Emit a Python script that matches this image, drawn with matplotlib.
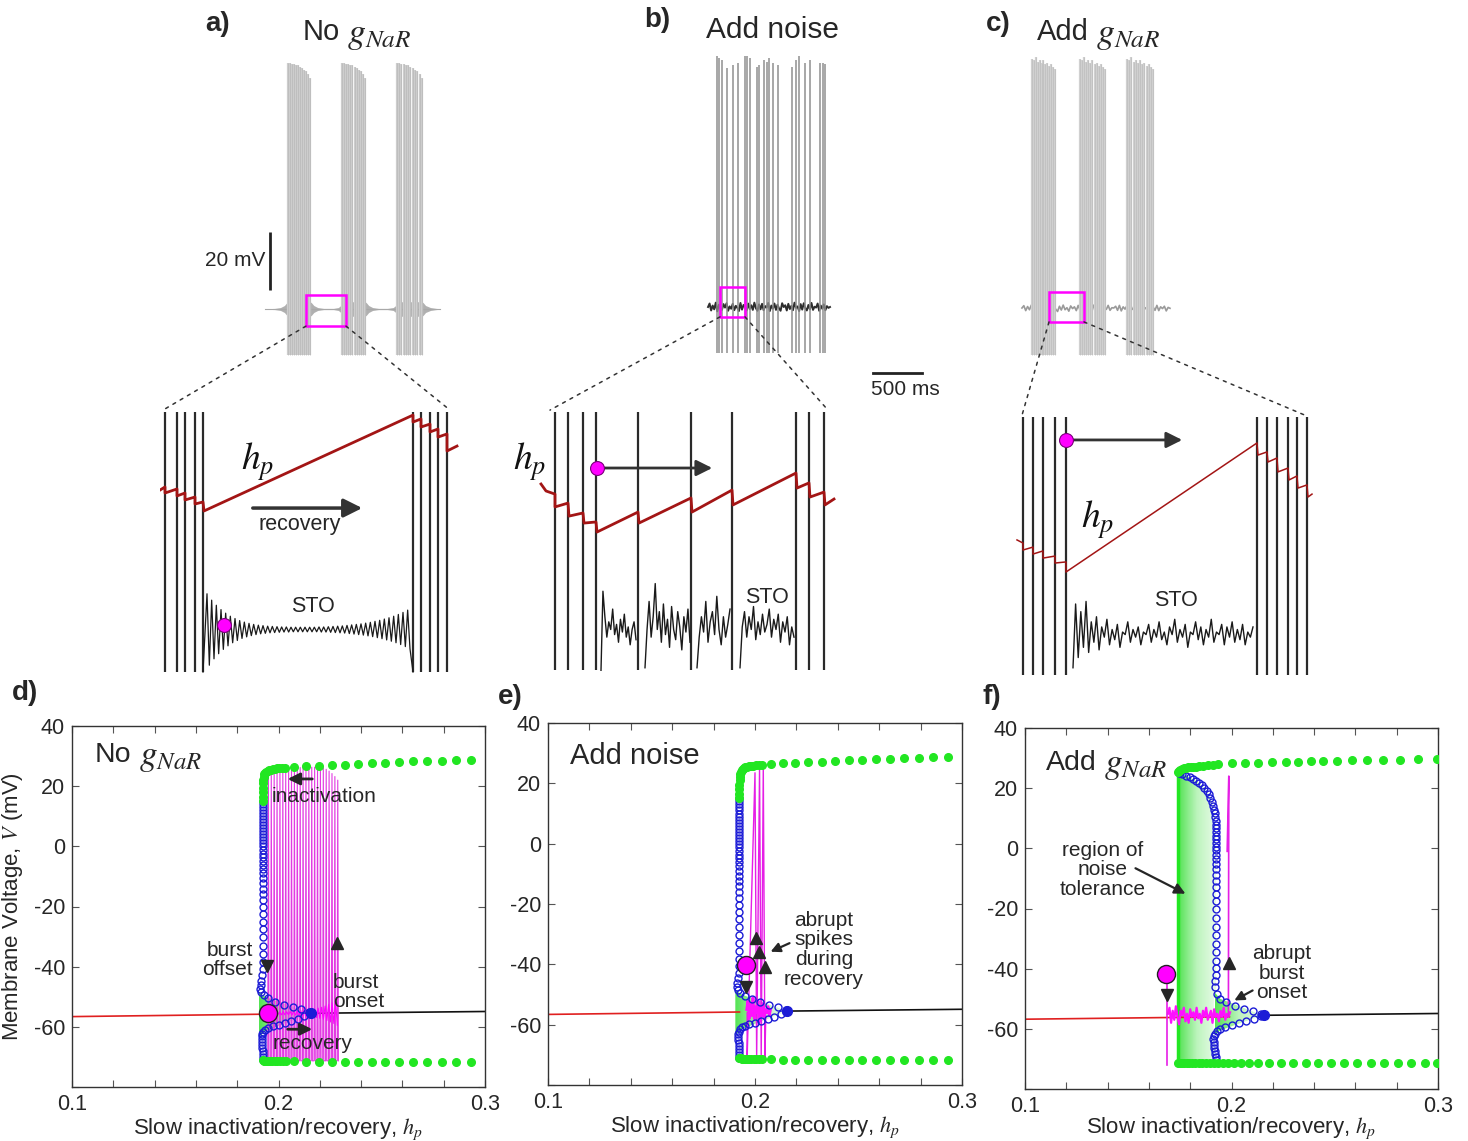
import numpy as np
import matplotlib.pyplot as plt
from matplotlib.patches import Rectangle, ConnectionPatch, Polygon
from matplotlib.colors import LinearSegmentedColormap

W, H = 1468, 1141
plt.rcParams['font.family'] = ['Liberation Sans', 'DejaVu Sans']
plt.rcParams['mathtext.fontset'] = 'stix'
TXT = '#262626'

# ---------------- top row: overview traces (ms, mV) ----------------
burst_a = [[337, 357, 376, 396, 417, 437, 458, 479, 500, 520, 541, 561],
           [887, 908, 929, 951, 972, 993, 1015, 1036, 1058, 1079, 1100, 1122],
           [1448, 1470, 1493, 1516, 1539, 1562, 1585, 1608, 1631, 1654, 1678, 1703]]
peaks_a = [30, 30, 29.5, 29.5, 29, 29, 28.5, 28, 27.5, 27, 26, 24.5]
env_a_t = [102, 200, 260, 300, 325, 337, 561, 575, 600, 640, 700, 800, 850, 875, 887,
           1122, 1135, 1160, 1200, 1260, 1350, 1410, 1435, 1448, 1703, 1715, 1740, 1790, 1850, 1887]
env_a_amp = [0.1, 0.2, 0.5, 1.2, 2.2, 2.5, 2.5, 2.2, 1.2, 0.5, 0.2, 0.2, 0.5, 1.2, 2.5,
             2.5, 2.2, 1.2, 0.5, 0.2, 0.2, 0.5, 1.2, 2.5, 2.5, 2.2, 1.2, 0.5, 0.2, 0.1]

spikes_b = [275, 296, 326, 377, 439, 490, 561, 581, 612, 683, 704, 755, 785, 806, 847, 898,
            1040, 1081, 1112, 1173, 1224, 1326, 1357, 1377]
peaks_b = [31.4, 30.8, 30.2, 27.3, 28.5, 29.0, 31.4, 31.6, 30.8, 27.9, 28.5, 30.2, 29.6, 30.8,
           29.0, 28.5, 27.9, 30.2, 31.6, 29.0, 30.2, 29.0, 29.3, 28.8]
base_b = [-55, -53.8, -56.2, -54.5, -55.8, -53.5, -56.5, -54.2, -55.5, -56, -54, -55.2, -53.7,
          -56.3, -54.8, -55.6, -53.9, -56.1, -54.6, -55.3, -56.4, -53.6, -55.9, -54.3, -55.1,
          -56.2, -53.8, -55.7, -54.4, -56.0, -53.5, -55.4, -56.3, -54.1, -55.8, -53.9, -56.1,
          -54.7, -55.2, -53.6, -56.4, -54.5, -55.6, -53.8, -56.0, -54.2, -55.5, -56.3, -53.7,
          -55.0, -54.4, -56.2, -53.9, -55.7, -54.6, -56.1, -53.5, -55.3, -54.8, -56.4, -54.0,
          -55.9, -53.7, -55.4, -56.2, -54.3, -55.8, -53.6, -56.0, -54.9, -55.2, -53.8, -56.3,
          -54.5, -55.6, -54.1, -56.1, -54.7, -55.3, -55.0]

burst_c = [[224, 243, 263, 283, 302, 322, 341, 361, 380, 400, 420, 439, 459],
           [714, 735, 756, 778, 799, 820, 841, 863, 884, 905, 926, 948, 969],
           [1193, 1215, 1237, 1260, 1282, 1304, 1326, 1348, 1370, 1393, 1415, 1437, 1459]]
peaks_c = [31, 30.5, 31.5, 30, 30.5, 29.5, 30.5, 29, 29.5, 28.5, 29, 28, 27.5]
base_c = [-55, -54.2, -55.9, -54.5, -55.6, -54.0, -56.1, -54.7, -55.3, -54.3, -55.8, -54.6,
          -56.0, -54.1, -55.5, -54.8, -55.9, -54.2, -55.4, -56.2, -54.4, -55.7, -54.0, -55.6,
          -54.9, -56.1, -54.3, -55.2, -54.6, -55.9, -54.1, -55.8, -54.5, -56.0, -54.2, -55.4,
          -54.8, -55.7, -54.0, -56.1, -54.6, -55.3, -54.3, -55.9, -54.7, -55.5, -54.1, -55.8,
          -54.9, -55.0, -54.4, -55.8, -54.1, -56.0, -54.6, -55.4, -54.2, -55.9, -54.8, -55.5,
          -54.0, -56.1, -54.5, -55.7, -54.3, -55.6, -54.9, -56.0, -54.2, -55.3, -54.7, -55.8,
          -54.1, -55.9, -54.6, -55.2, -54.4, -56.0, -54.8, -55.1]

# boxes (t0, t1, v0, v1)
box_a = (520, 928, -60.9, -50.2)
box_b = (306, 561, -58.4, -48.1)
box_c = (398, 755, -59.8, -49.5)

# ---------------- top row: zoomed traces ----------------
zspk_a = [5, 17, 25, 35, 43, 253, 261, 270, 278, 287]
sto_a_amp = [14, 11.5, 9.5, 7.8, 6.4, 5.2, 4.3, 3.5, 2.9, 2.4, 2.0, 1.7, 1.5, 1.3, 1.2, 1.1, 1.0,
             1.0, 0.9, 0.9, 0.9, 0.9, 0.9, 0.9, 1.0, 1.0, 1.1, 1.2, 1.3, 1.4, 1.6, 1.8, 2.0, 2.2,
             2.5, 2.8, 3.2, 3.6, 4.1, 4.6, 5.2, 5.9, 6.7, 7.6]
hp_a_t = [0, 5, 5, 17, 17, 25, 25, 35, 35, 43, 44, 253, 253, 261, 261, 270, 270, 278, 278, 287,
          287, 297]
hp_a_v = [0.2036, 0.2053, 0.2020, 0.2042, 0.2004, 0.2020, 0.1982, 0.1998, 0.1960, 0.1971, 0.1922,
          0.2445, 0.2407, 0.2424, 0.2380, 0.2396, 0.2353, 0.2369, 0.2325, 0.2342, 0.2249, 0.2276]

zspk_b = [20, 33, 48, 61, 103, 156, 197, 261, 274, 289]
sto_b_span = [(66, 101), (110, 155), (162, 195), (205, 259)]
sto_b = [[-71, -40, -50, -58, -52, -55, -47, -57, -53, -60, -51, -56, -49, -58, -54, -61, -55, -52, -59],
         [-70, -55, -44, -58, -50, -37, -55, -48, -60, -45, -57, -51, -62, -46, -55, -59, -48, -54,
          -63, -50, -56, -47, -60],
         [-70, -58, -50, -56, -44, -60, -52, -48, -57, -42, -55, -61, -50, -58, -53, -47],
         [-70, -54, -48, -58, -50, -55, -46, -59, -52, -57, -49, -56, -53, -47, -58, -51, -55, -49,
          -60, -52, -56, -50, -61, -54, -58]]
hp_b_t = [6, 11, 20, 20, 33, 34, 48, 49, 61, 62, 103, 104, 156, 157, 197, 198, 261, 262, 274, 275,
          289, 290, 299]
hp_b_v = [0.2069, 0.2031, 0.2014, 0.1944, 0.1965, 0.1894, 0.1911, 0.1856, 0.1862, 0.1807, 0.1916,
          0.1856, 0.1993, 0.1916, 0.2036, 0.1955, 0.2129, 0.2047, 0.2075, 0.1998, 0.2025, 0.1955,
          0.1987]

zspk_c = [13, 23, 33, 45, 56, 247, 257, 267, 278, 287, 297]
sto_c = [-70, -45, -66, -48, -62, -44, -64, -52, -60, -50, -63, -54, -58, -51, -61, -55, -59, -53,
         -62, -56, -57, -52, -60, -55, -58, -54, -61, -56, -57, -53, -60, -55, -58, -52, -59, -56,
         -61, -54, -57, -51, -60, -55, -58, -53, -62, -56, -57, -52, -59, -54, -61, -55, -58, -51,
         -60, -56, -57, -53, -61, -54, -58, -52, -60, -55, -59, -53, -61, -56, -58, -54]
hp_c_t = [7, 13, 13, 23, 23, 33, 33, 45, 45, 56, 56, 247, 248, 257, 258, 267, 268, 278, 279, 287,
          288, 297, 298, 302]
hp_c_v = [0.1764, 0.1747, 0.1709, 0.1725, 0.1687, 0.1704, 0.1665, 0.1676, 0.1638, 0.1644, 0.1589,
          0.2293, 0.2227, 0.2244, 0.2189, 0.2211, 0.2135, 0.2156, 0.2091, 0.2113, 0.2047, 0.2064,
          0.1998, 0.2014]

# ---------------- bottom row: bifurcation diagrams ----------------
up_h = [0.1925, 0.1925, 0.1925, 0.1925, 0.1926, 0.1927, 0.1929, 0.1932, 0.1936, 0.1941, 0.1947,
        0.1954, 0.1962, 0.1971, 0.1981, 0.1992, 0.2004, 0.2017, 0.2032, 0.2075, 0.2135, 0.2195,
        0.2258, 0.2322, 0.2387, 0.2452, 0.2518, 0.2585, 0.2652, 0.2720, 0.2790, 0.2860, 0.2930]
up_v = [15.0, 16.5, 18.0, 19.5, 21.0, 22.2, 23.2, 23.9, 24.4, 24.8, 25.1, 25.3, 25.5, 25.6, 25.8,
        25.9, 26.0, 26.1, 26.2, 26.4, 26.6, 26.8, 27.0, 27.2, 27.4, 27.6, 27.8, 28.0, 28.2, 28.4,
        28.5, 28.7, 28.8]
lo_h = [0.1925, 0.1930, 0.1936, 0.1943, 0.1951, 0.1960, 0.1970, 0.1981, 0.1993, 0.2006, 0.2020,
        0.2036, 0.2075, 0.2135, 0.2195, 0.2258, 0.2322, 0.2387, 0.2452, 0.2518, 0.2585, 0.2652,
        0.2720, 0.2790, 0.2860, 0.2930]
lo_v = [-71.1, -71.2, -71.3, -71.3, -71.4, -71.4, -71.4, -71.5, -71.5, -71.5, -71.5, -71.5, -71.5,
        -71.6, -71.6, -71.6, -71.6, -71.6, -71.6, -71.6, -71.6, -71.6, -71.6, -71.6, -71.6, -71.6]
bu_v = [15, 14, 13, 12, 11, 10, 9, 8, 7, 6, 5, 4, 3, 2, 1, 0, -1.2, -2.4, -3.6, -4.8, -6.1, -7.5,
        -9, -10.6, -12.3, -14.1, -16, -18, -20.2, -22.5, -25, -27.6, -30.3, -33, -35.7, -38.3,
        -40.7, -42.8, -44.6, -46.1, -47.4, -48.5, -49.5, -50.5, -51.6, -52.6, -53.4, -54.2, -55.0]
bu_h = [0.1925, 0.1925, 0.1925, 0.1925, 0.1925, 0.1925, 0.1925, 0.1925, 0.1925, 0.1925, 0.1925,
        0.1925, 0.1925, 0.1925, 0.1925, 0.1925, 0.1925, 0.1925, 0.1925, 0.1925, 0.1925, 0.1925,
        0.1925, 0.1925, 0.1925, 0.1925, 0.1925, 0.1925, 0.1925, 0.1925, 0.1925, 0.1925, 0.1925,
        0.1925, 0.1925, 0.1924, 0.1923, 0.1921, 0.1917, 0.1913, 0.1912, 0.1916, 0.1928, 0.1950,
        0.1985, 0.2025, 0.2068, 0.2110, 0.2150]
bl_v = [-71, -70, -69, -68, -67, -66, -65, -64, -63.2, -62.4, -61.6, -60.9, -60.3, -59.8, -59.3,
        -58.7, -58.0, -57.3, -56.5, -55.8]
bl_h = [0.1925, 0.1925, 0.1924, 0.1923, 0.1922, 0.1921, 0.1920, 0.1919, 0.1919, 0.1921, 0.1926,
        0.1935, 0.1950, 0.1972, 0.2000, 0.2030, 0.2062, 0.2094, 0.2125, 0.2152]
wedge_h = [0.1905, 0.1905, 0.1935, 0.2155, 0.1935]
wedge_v = [-48.5, -63.5, -61.5, -55.5, -50.0]
hopf = (0.2155, -55.5)
rest_red_h = [0.1, 0.1925]
rest_red_v = [-56.6, -55.8]
rest_blk_h = [0.2155, 0.3]
rest_blk_v = [-55.5, -54.9]

spk_d_h = [0.1948, 0.1962, 0.1976, 0.1990, 0.2004, 0.2018, 0.2032, 0.2046, 0.2060, 0.2074, 0.2088,
           0.2102, 0.2116, 0.2130, 0.2144, 0.2158, 0.2172, 0.2186, 0.2200, 0.2214, 0.2228, 0.2242,
           0.2256, 0.2270, 0.2284]
spk_d_pk = [25.0, 25.3, 25.5, 25.6, 25.7, 25.8, 25.9, 26.0, 26.0, 26.1, 26.1, 26.2, 26.2, 26.2, 26.3,
            26.3, 26.3, 26.3, 26.2, 26.0, 25.6, 25.0, 24.2, 23.2, 22.0]
sto_d_amp = [0.4, 0.4, 0.4, 0.5, 0.5, 0.5, 0.6, 0.6, 0.7, 0.8, 0.9, 1.0, 1.2, 1.4, 1.7, 2.0, 2.4,
             2.9, 3.4, 4.0]
dot_d = (0.195, -55.4)

traj_e_h = [0.1962, 0.1962, 0.2000, 0.2008, 0.2022, 0.2030, 0.2040, 0.2048, 0.2052]
traj_e_v = [-56, -71, 23.5, -71, 25, -71, 25, -71, -57]
noise_e = [-55, -52, -58, -53, -57, -51, -58, -54, -56, -52, -59, -54, -57, -53, -58, -55, -56, -54,
           -57, -55]
dot_e = (0.1957, -40.2)
tri_up_e = [(0.2003, -31.3), (0.2019, -35.9), (0.2048, -40.9)]

up_h_f = [0.1742, 0.1746, 0.1752, 0.1760, 0.1769, 0.1779, 0.1790, 0.1802, 0.1815, 0.1829, 0.1845,
          0.1862, 0.1885, 0.1908, 0.1935, 0.2002, 0.2065, 0.2128, 0.2196, 0.2264, 0.2322, 0.2385,
          0.2443, 0.2511, 0.2583, 0.2656, 0.2734, 0.2816, 0.2903, 0.2995]
up_v_f = [25.4, 25.8, 26.1, 26.4, 26.6, 26.8, 26.9, 27.0, 27.1, 27.2, 27.3, 27.4, 27.6, 27.8, 28.0,
          28.2, 28.4, 28.5, 28.6, 28.7, 28.8, 28.9, 29.0, 29.1, 29.2, 29.3, 29.4, 29.5, 29.6, 29.7]
lo_h_f = [0.1742, 0.1750, 0.1760, 0.1771, 0.1783, 0.1796, 0.1810, 0.1825, 0.1841, 0.1858, 0.1876,
          0.1895, 0.1915, 0.1936, 0.1960, 0.1985, 0.2012, 0.2045, 0.2085, 0.2128, 0.2180, 0.2240,
          0.2300, 0.2360, 0.2420, 0.2480, 0.2545, 0.2610, 0.2675, 0.2740, 0.2805, 0.2870, 0.2935,
          0.2995]
lo_v_f = [-71.5, -71.5, -71.5, -71.5, -71.5, -71.5, -71.5, -71.5, -71.5, -71.5, -71.5, -71.5, -71.5,
          -71.5, -71.5, -71.5, -71.5, -71.5, -71.5, -71.5, -71.5, -71.5, -71.5, -71.5, -71.5, -71.5,
          -71.5, -71.5, -71.5, -71.5, -71.5, -71.5, -71.5, -71.5]
bu_h_f = [0.1745, 0.1762, 0.1780, 0.1798, 0.1814, 0.1829, 0.1843, 0.1856, 0.1868, 0.1879, 0.1889,
          0.1898, 0.1905, 0.1911, 0.1916, 0.1920, 0.1922, 0.1923, 0.1924, 0.1924, 0.1924, 0.1925,
          0.1925, 0.1925, 0.1925, 0.1925, 0.1925, 0.1925, 0.1925, 0.1925, 0.1925, 0.1925, 0.1925,
          0.1925, 0.1925, 0.1925, 0.1925, 0.1925, 0.1925, 0.1925, 0.1925, 0.1925, 0.1925, 0.1924,
          0.1922, 0.1921, 0.1928, 0.1945, 0.1975, 0.2015, 0.2060, 0.2105, 0.2145]
bu_v_f = [25.0, 24.6, 24.2, 23.7, 23.1, 22.5, 21.8, 21.0, 20.1, 19.1, 18.0, 16.8, 15.5, 14.2, 12.9,
          11.6, 10.3, 9.0, 7.8, 6.6, 5.4, 4.2, 3.0, 1.8, 0.6, -0.7, -2.1, -3.6, -5.2, -6.9, -8.7,
          -10.7, -12.8, -15.1, -17.6, -20.3, -23.1, -26.0, -28.9, -31.8, -34.6, -37.3, -39.8, -42.1,
          -44.2, -46.1, -48.5, -50.0, -51.2, -52.3, -53.3, -54.2, -55.0]
bl_v_f = [-70.5, -69.5, -68.5, -67.5, -66.5, -65.5, -64.5, -63.5, -62.5, -61.6, -60.8, -60.1, -59.4,
          -58.7, -58.0, -57.3, -56.6, -55.9]
bl_h_f = [0.1925, 0.1923, 0.1921, 0.1919, 0.1917, 0.1915, 0.1913, 0.1912, 0.1913, 0.1918, 0.1928,
          0.1945, 0.1970, 0.2000, 0.2035, 0.2072, 0.2110, 0.2145]
region_f_h = [0.1742, 0.1742, 0.1780, 0.1830, 0.1870, 0.1900, 0.1918, 0.1925, 0.1925, 0.1915,
              0.1912, 0.1925]
region_f_v = [-71.5, 25.4, 24.2, 22.4, 20.0, 16.8, 12.0, 6.0, -47.0, -50.0, -62.0, -71.5]
wedge_f_h = [0.1920, 0.1945, 0.2150, 0.1945, 0.1920]
wedge_f_v = [-48.0, -50.0, -55.5, -60.5, -62.0]
rest_red_f_h = [0.1, 0.199]
rest_red_f_v = [-56.8, -56.0]
noise_f = [-55, -53, -58, -54, -57, -52.5, -56, -58.5, -54, -55.5, -53, -57.5, -55, -58, -53.5, -56,
           -54.5, -57, -53, -56.5, -55, -58, -54, -56, -53, -57, -55.5, -54, -58, -53.5, -56, -55,
           -57.5, -54, -56, -53, -57, -55, -56, -54.5]
noise_f_span = (0.1692, 0.1993)
spike_f1_h = [0.1688, 0.1688]
spike_f1_v = [-42, -72]
spike_f2_h = [0.1985, 0.1987, 0.1979]
spike_f2_v = [-56, 24, -1]
dot_f = (0.1683, -41.8)

fig = plt.figure(figsize=(W / 100, H / 100), dpi=100)
renderer = fig.canvas.get_renderer()


def px_axes(x0, y0, x1, y1):
    return fig.add_axes([x0 / W, 1 - y1 / H, (x1 - x0) / W, (y1 - y0) / H])


def ftext(x, y, s, **kw):
    return fig.text(x / W, 1 - y / H, s, **kw)


def title_g(x, y, word, size):
    # word in sans, then g_NaR a bit larger in the math font
    t = ftext(x, y, word, fontsize=size, ha='left', va='center', color=TXT)
    x1 = t.get_window_extent(renderer).x1
    fig.text((x1 + 7) / W, 1 - (y + 2) / H, r'$g_{NaR}$', fontsize=size + 5,
             ha='left', va='center', color=TXT)


# ---- overview axes ----
ova = px_axes(255, 33.5, 455, 381.5)
ovb = px_axes(690, 31.5, 890, 379.5)
ovc = px_axes(1010, 32.5, 1210, 380.5)
for ax in (ova, ovb, ovc):
    ax.set_xlim(0, 2040)
    ax.set_ylim(-80, 40)
    ax.axis('off')

env_t = np.array(env_a_t)
env_amp = np.array(env_a_amp)
ova.fill_between(env_t, -55 - env_amp, -55 + env_amp, color='#b0b0b0', lw=0)
ova.plot(env_t, np.full(len(env_t), -55.0), color='#a8a8a8', lw=0.8)
for b in burst_a:
    ova.vlines(b, -71, peaks_a, color='#cdcdcd', lw=1.6)
    ova.vlines(b, -71, peaks_a, color='#b8b8b8', lw=0.5)
ova.vlines(153, -48.4, -28.4, color='#222222', lw=2)
ova.text(102, -38.4, '20 mV', ha='right', va='center', fontsize=15, color=TXT)

ovb.plot(np.linspace(184, 1428, len(base_b)), base_b, color='#2e2e2e', lw=1.4)
ovb.vlines(spikes_b, -71, peaks_b, color='#909090', lw=1.1)
ovb.plot([1867, 2367], [-77.8, -77.8], color='#222222', lw=2, clip_on=False)
ovb.text(2193, -83.6, '500 ms', ha='center', va='center', fontsize=15, color=TXT)

ovc.plot(np.linspace(122, 1632, len(base_c)), base_c, color='#9a9a9a', lw=1.2)
for b in burst_c:
    ovc.vlines(b, -71.2, peaks_c, color='#d0d0d0', lw=1.6)
    ovc.vlines(b, -71.2, peaks_c, color='#bcbcbc', lw=0.5)

for ax, bx in ((ova, box_a), (ovb, box_b), (ovc, box_c)):
    ax.add_patch(Rectangle((bx[0], bx[2]), bx[1] - bx[0], bx[3] - bx[2], fill=False,
                           edgecolor='#ff00ff', lw=1.8, zorder=5))

# ---- zoom axes ----
zma = px_axes(160, 405, 460, 680)
zmb = px_axes(535, 405, 845, 680)
zmc = px_axes(1010, 405, 1320, 680)
zma.set_xlim(0, 300)
zmb.set_xlim(0, 310)
zmc.set_xlim(0, 310)
hps = []
for ax in (zma, zmb, zmc):
    ax.set_ylim(-74.8, 33)
    ax.axis('off')
    hx = ax.twinx()
    hx.set_ylim(0.10, 0.25)
    hx.axis('off')
    hps.append(hx)

# zoom a
zma.vlines(zspk_a, -71.7, 30.3, color='#2a2a2a', lw=1.6)
sto_t = np.linspace(47, 250, 2 * len(sto_a_amp))
sto_v = []
for a in sto_a_amp:
    sto_v += [-55 + a, -55 - a]
zma.plot([43] + list(sto_t) + [253], [-71.7] + sto_v + [-71.7], color='#1a1a1a', lw=0.9)
hps[0].plot(hp_a_t, hp_a_v, color='#a31515', lw=2)
zma.plot(64, -53.3, 'o', ms=10, mfc='#ff00ff', mec='#7a007a', mew=0.8, zorder=6)
zma.text(98, 10.6, '$h_p$', fontsize=27, ha='center', va='center', color='#111111')
zma.annotate('', xy=(205, -7.4), xytext=(90, -7.4),
             arrowprops=dict(arrowstyle='-|>', color='#333333', lw=2.5, mutation_scale=28))
zma.text(140, -14, 'recovery', fontsize=15.5, ha='center', va='center', color=TXT)
zma.text(153, -45.8, 'STO', fontsize=15.5, ha='center', va='center', color=TXT)

# zoom b
zmb.vlines(zspk_b, -71, 30.3, color='#2a2a2a', lw=1.6)
for (t0, t1), seg in zip(sto_b_span, sto_b):
    zmb.plot(np.linspace(t0, t1, len(seg)), seg, color='#1a1a1a', lw=1.0)
hps[1].plot(hp_b_t, hp_b_v, color='#a31515', lw=2, clip_on=False)
zmb.annotate('', xy=(180, 8.3), xytext=(62, 8.3),
             arrowprops=dict(arrowstyle='-|>', color='#333333', lw=2, mutation_scale=24))
zmb.plot(62, 8.3, 'o', ms=10, mfc='#ff00ff', mec='#7a007a', mew=0.8, zorder=6)
zmb.text(-5, 10.6, '$h_p$', fontsize=27, ha='center', va='center', color='#111111')
zmb.text(232, -42.3, 'STO', fontsize=15.5, ha='center', va='center', color=TXT)

# zoom c
zmc.vlines(zspk_c, -72.9, 28.3, color='#2a2a2a', lw=1.6)
zmc.plot(np.linspace(63, 243, len(sto_c)), sto_c, color='#1a1a1a', lw=1.0)
hps[2].plot(hp_c_t, hp_c_v, color='#a31515', lw=1.1)
zmc.annotate('', xy=(175, 19.3), xytext=(56, 19.3),
             arrowprops=dict(arrowstyle='-|>', color='#333333', lw=2, mutation_scale=24))
zmc.plot(56, 19.3, 'o', ms=10, mfc='#ff00ff', mec='#7a007a', mew=0.8, zorder=6)
zmc.text(88, -12.1, '$h_p$', fontsize=27, ha='center', va='center', color='#111111')
zmc.text(166, -43.5, 'STO', fontsize=15.5, ha='center', va='center', color=TXT)

# dotted connectors
links = [(ova, (box_a[0], box_a[2]), zma, (3, 31)), (ova, (box_a[1], box_a[2]), zma, (290, 31)),
         (ovb, (box_b[0], box_b[2]), zmb, (15, 31)), (ovb, (box_b[1], box_b[2]), zmb, (293, 31)),
         (ovc, (box_c[0], box_c[2]), zmc, (12, 29)), (ovc, (box_c[1], box_c[2]), zmc, (295, 29))]
for axA, pA, axB, pB in links:
    cp = ConnectionPatch(xyA=pA, coordsA='data', axesA=axA, xyB=pB, coordsB='data', axesB=axB,
                         color='#333333', lw=1.1, linestyle=(0, (2, 3.5)))
    fig.add_artist(cp)

# titles
ftext(218, 24, 'a)', fontsize=20, fontweight='bold', ha='center', va='center', color=TXT)
title_g(303, 32, 'No', 21)
ftext(657, 20, 'b)', fontsize=20, fontweight='bold', ha='center', va='center', color=TXT)
ftext(773, 30, 'Add noise', fontsize=21.5, ha='center', va='center', color=TXT)
ftext(998, 24, 'c)', fontsize=20, fontweight='bold', ha='center', va='center', color=TXT)
title_g(1037, 32, 'Add', 21)
ftext(25, 693, 'd)', fontsize=20, fontweight='bold', ha='center', va='center', color=TXT)
ftext(510, 697, 'e)', fontsize=20, fontweight='bold', ha='center', va='center', color=TXT)
ftext(992, 697, 'f)', fontsize=20, fontweight='bold', ha='center', va='center', color=TXT)
title_g(95, 755, 'No', 20.5)
ftext(570, 756, 'Add noise', fontsize=21, ha='left', va='center', color=TXT)
title_g(1046, 763, 'Add', 20.5)

# ---- bifurcation axes ----
axd = px_axes(72, 726, 485, 1087)
axe = px_axes(548, 723, 962, 1085)
axf = px_axes(1025, 728, 1438, 1089)

GREEN = '#22e622'
BLUE = '#1c1cd6'
MAG = '#e23ae2'
grad = np.linspace(0, 1, 256).reshape(1, -1)
cm_green = LinearSegmentedColormap.from_list('g', ['#3fe03f', '#b5f3b5', '#e6fbe6'])


def shade(ax, hs, vs, cmap=cm_green, alpha=0.9):
    poly = Polygon(np.column_stack([hs, vs]), closed=True, transform=ax.transData,
                   facecolor='none', edgecolor='none')
    ax.add_patch(poly)
    im = ax.imshow(grad, extent=[min(hs), max(hs), min(vs), max(vs)], aspect='auto',
                   cmap=cmap, origin='lower', alpha=alpha, zorder=1)
    im.set_clip_path(poly)


def style(ax, lpad=1):
    ax.set_xlim(0.1, 0.3)
    ax.set_ylim(-80, 40)
    ax.set_xticks([0.1, 0.2, 0.3])
    ax.set_xticklabels(['0.1', '0.2', '0.3'])
    ax.set_xticks([0.12, 0.14, 0.16, 0.18, 0.22, 0.24, 0.26, 0.28], minor=True)
    ax.set_yticks([-80, -60, -40, -20, 0, 20, 40])
    ax.set_yticklabels(['', '-60', '-40', '-20', '0', '20', '40'])
    ax.tick_params(which='both', direction='in', top=True, right=True, length=5, width=0.8,
                   color='#555555', labelsize=15.5, labelcolor=TXT, pad=5)
    for s in ax.spines.values():
        s.set_color('#333333')
        s.set_linewidth(1)
    ax.set_xlabel('Slow inactivation/recovery, $h_p$', fontsize=16, color=TXT, labelpad=lpad)


def branches(ax, uh, uv, lh, lv, buh, buv, blh, blv):
    ax.plot(buh, buv, 'o', ms=5, mfc='none', mec=BLUE, mew=1.0, zorder=4)
    ax.plot(blh, blv, 'o', ms=5, mfc='none', mec=BLUE, mew=1.0, zorder=4)
    ax.plot(uh, uv, 'o', ms=5.5, color=GREEN, mec=GREEN, zorder=5)
    ax.plot(lh, lv, 'o', ms=5.5, color=GREEN, mec=GREEN, zorder=5)
    ax.plot(*hopf, 'o', ms=7, color=BLUE, zorder=5)


def arrow(ax, start, end, lw=2, ms=18):
    ax.annotate('', xy=end, xytext=start,
                arrowprops=dict(arrowstyle='-|>', color=TXT, lw=lw, mutation_scale=ms), zorder=7)


# d
shade(axd, wedge_h, wedge_v)
axd.plot(rest_red_h, rest_red_v, color='#e02020', lw=1.2, zorder=2)
axd.plot(rest_blk_h, rest_blk_v, color='#111111', lw=1.2, zorder=2)
th, tv = [], []
for h, pk in zip(spk_d_h, spk_d_pk):
    th += [h, h + 0.0003, h + 0.0006]
    tv += [-71.3, pk, -71.3]
axd.plot(th, tv, color=MAG, lw=0.8, zorder=3)
sh = np.linspace(0.1955, 0.2285, 2 * len(sto_d_amp))
sv = []
for a in sto_d_amp:
    sv += [-55.5 + a, -55.5 - a]
axd.plot(sh, sv, color='#ff00ff', lw=0.8, zorder=3)
branches(axd, up_h, up_v, lo_h, lo_v, bu_h, bu_v, bl_h, bl_v)
axd.plot(*dot_d, 'o', ms=13, mfc='#ff00ff', mec='#222222', mew=1, zorder=8)
axd.plot(0.1944, -39.8, 'v', ms=9, color=TXT, zorder=8)
axd.plot(0.2283, -32, '^', ms=9, color=TXT, zorder=8)
arrow(axd, (0.2177, 22.4), (0.2031, 22.4))
arrow(axd, (0.2031, -60.8), (0.2177, -60.8))
axd.text(0.1969, 16.5, 'inactivation', fontsize=15, ha='left', va='center', color=TXT, zorder=9)
axd.text(0.1877, -37.8, 'burst\noffset', fontsize=15, ha='right', va='center', color=TXT,
         linespacing=1.0)
axd.text(0.2264, -48.4, 'burst\nonset', fontsize=15, ha='left', va='center', color=TXT,
         linespacing=1.0, zorder=9)
axd.text(0.2167, -65.5, 'recovery', fontsize=15, ha='center', va='center', color=TXT, zorder=9)
style(axd)
axd.set_ylabel('Membrane Voltage, $V$ (mV)', fontsize=16, color=TXT, labelpad=6)

# e
shade(axe, wedge_h, wedge_v)
axe.plot(rest_red_h, rest_red_v, color='#e02020', lw=1.2, zorder=2)
axe.plot(rest_blk_h, rest_blk_v, color='#111111', lw=1.2, zorder=2)
axe.plot(traj_e_h, traj_e_v, color='#e61ee6', lw=1.0, zorder=3)
axe.plot(np.linspace(0.1960, 0.2075, len(noise_e)), noise_e, color='#ff10ff', lw=2, zorder=3)
branches(axe, up_h, up_v, lo_h, lo_v, bu_h, bu_v, bl_h, bl_v)
axe.plot(*dot_e, 'o', ms=13, mfc='#ff00ff', mec='#222222', mew=1, zorder=8)
axe.plot(0.1957, -47.5, 'v', ms=9, color=TXT, zorder=8)
for p in tri_up_e:
    axe.plot(*p, '^', ms=9, color=TXT, zorder=8)
arrow(axe, (0.2179, -32.6), (0.2063, -36.2), lw=1.6, ms=14)
axe.text(0.2333, -35.2, 'abrupt\nspikes\nduring\nrecovery', fontsize=15, ha='center',
         va='center', color=TXT, linespacing=1.05)
style(axe)

# f
shade(axf, region_f_h, region_f_v)
shade(axf, wedge_f_h, wedge_f_v)
axf.plot(region_f_h[:2], region_f_v[:2], color=GREEN, lw=2.5, zorder=2)
axf.plot(rest_red_f_h, rest_red_f_v, color='#e02020', lw=1.2, zorder=2)
axf.plot(rest_blk_h, rest_blk_v, color='#111111', lw=1.2, zorder=2)
axf.plot(np.linspace(*noise_f_span, len(noise_f)), noise_f, color='#ff10ff', lw=1.6, zorder=3)
axf.plot(spike_f1_h, spike_f1_v, color='#e61ee6', lw=1.2, zorder=3)
axf.plot(spike_f2_h, spike_f2_v, color='#e61ee6', lw=1.2, zorder=3)
branches(axf, up_h_f, up_v_f, lo_h_f, lo_v_f, bu_h_f, bu_v_f, bl_h_f, bl_v_f)
axf.plot(*dot_f, 'o', ms=13, mfc='#ff00ff', mec='#222222', mew=1, zorder=8)
axf.plot(0.1686, -48.8, 'v', ms=9, color=TXT, zorder=8)
axf.plot(0.1988, -38, '^', ms=9, color=TXT, zorder=8)
arrow(axf, (0.1523, -6.2), (0.1789, -15.5), lw=1.6, ms=16)
arrow(axf, (0.2114, -46.8), (0.2002, -51.0), lw=1.6, ms=14)
axf.text(0.1378, -7.2, 'region of\nnoise\ntolerance', fontsize=15, ha='center', va='center',
         color=TXT, linespacing=1.05)
axf.text(0.2244, -41.5, 'abrupt\nburst\nonset', fontsize=15, ha='center', va='center',
         color=TXT, linespacing=1.05)
style(axf, lpad=-1)

fig.savefig('out.png', dpi=100)
